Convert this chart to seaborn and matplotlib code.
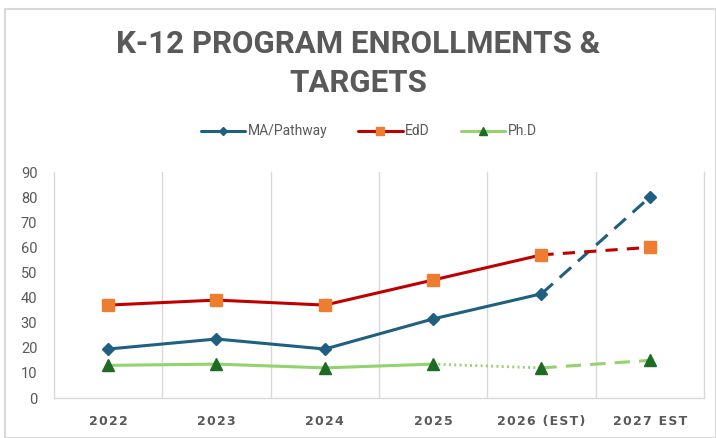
import matplotlib
matplotlib.use('Agg')
import matplotlib.pyplot as plt
import seaborn as sns
import pandas as pd
from matplotlib.lines import Line2D
from matplotlib.patches import Rectangle

# Chart values
years = ['2022', '2023', '2024', '2025', '2026 (EST)', '2027 EST']
ma_pathway = [19.5, 23.5, 19.5, 31.5, 41.5, 80]
edd = [37, 39, 37, 47, 57, 60]
phd = [13, 13.5, 12, 13.5, 12, 15]

df = pd.DataFrame({'pos': range(len(years)), 'Year': years,
                   'MA/Pathway': ma_pathway, 'EdD': edd, 'Ph.D': phd})

sns.set_style('white')
plt.rcParams['font.family'] = ['Roboto', 'DejaVu Sans']

gray = '#595959'
ma_col = '#1F5F82'
edd_line, edd_mark = '#C00000', '#ED7D31'
phd_line, phd_mark = '#92D36E', '#1E6B24'

fig = plt.figure(figsize=(7.16, 4.38), dpi=100)
ax = fig.add_axes([0.0754, 0.0913, 0.9078, 0.516])

lw = 2.2

# MA/Pathway: solid to 2026, dashed to 2027
sns.lineplot(data=df.iloc[:5], x='pos', y='MA/Pathway', color=ma_col, lw=lw, ax=ax)
sns.lineplot(data=df.iloc[4:], x='pos', y='MA/Pathway', color=ma_col, lw=lw, ax=ax)
ax.lines[-1].set_dashes([5, 3])
ax.plot(df['pos'], df['MA/Pathway'], ls='none', marker='D', ms=6.5, color=ma_col)

# EdD: solid to 2026, dashed to 2027
sns.lineplot(data=df.iloc[:5], x='pos', y='EdD', color=edd_line, lw=lw, ax=ax)
sns.lineplot(data=df.iloc[4:], x='pos', y='EdD', color=edd_line, lw=lw, ax=ax)
ax.lines[-1].set_dashes([4, 3])
ax.plot(df['pos'], df['EdD'], ls='none', marker='s', ms=8, color=edd_mark)

# Ph.D: solid to 2025, dotted to 2026, dashed to 2027
sns.lineplot(data=df.iloc[:4], x='pos', y='Ph.D', color=phd_line, lw=lw, ax=ax)
sns.lineplot(data=df.iloc[3:5], x='pos', y='Ph.D', color=phd_line, lw=2, ax=ax)
ax.lines[-1].set_dashes([0.7, 1.2])
sns.lineplot(data=df.iloc[4:], x='pos', y='Ph.D', color=phd_line, lw=lw, ax=ax)
ax.lines[-1].set_dashes([5, 3])
ax.plot(df['pos'], df['Ph.D'], ls='none', marker='^', ms=9, color=phd_mark)

ax.set_xlim(-0.5, len(years) - 0.5)
ax.set_ylim(0, 90)
ax.set_yticks(range(0, 91, 10))
ax.set_xticks(df['pos'])
# letter-spaced category labels
ax.set_xticklabels(['\u200a'.join(y) for y in years], fontsize=9, fontweight='bold',
                   color=gray, family='DejaVu Sans')
ax.tick_params(axis='y', labelsize=10.5, labelcolor=gray, length=0, pad=12)
ax.tick_params(axis='x', length=0, pad=12)
ax.set_xlabel('')
ax.set_ylabel('')

# vertical gridlines between categories
for b in [x + 0.5 for x in range(len(years) - 1)]:
    ax.axvline(b, color='#D9D9D9', lw=1, zorder=0)
for side in ['left', 'bottom', 'right']:
    ax.spines[side].set_color('#D9D9D9')
    ax.spines[side].set_linewidth(1)
ax.spines['top'].set_visible(False)

# legend
handles = [
    Line2D([], [], color=ma_col, lw=lw, marker='D', ms=4),
    Line2D([], [], color=edd_line, lw=lw, marker='s', ms=6, mfc=edd_mark, mec=edd_mark),
    Line2D([], [], color=phd_line, lw=lw, marker='^', ms=6, mfc=phd_mark, mec=phd_mark),
]
fig.legend(handles, ['MA/Pathway', 'EdD', 'Ph.D'], loc='center', bbox_to_anchor=(0.515, 0.70),
           ncol=3, frameon=False, fontsize=10, labelcolor=gray, handlelength=3.2,
           handletextpad=0.2, columnspacing=2.2)

fig.text(0.5, 0.855, 'K-12 PROGRAM ENROLLMENTS &\nTARGETS', ha='center', va='center',
         fontsize=22.5, fontweight='bold', color=gray, linespacing=1.35)

# chart area border
fig.patches.append(Rectangle((0.007, 0.0), 0.993, 0.979, transform=fig.transFigure,
                             fill=False, ec='#D9D9D9', lw=1.5))

fig.savefig('out.png', dpi=100)
